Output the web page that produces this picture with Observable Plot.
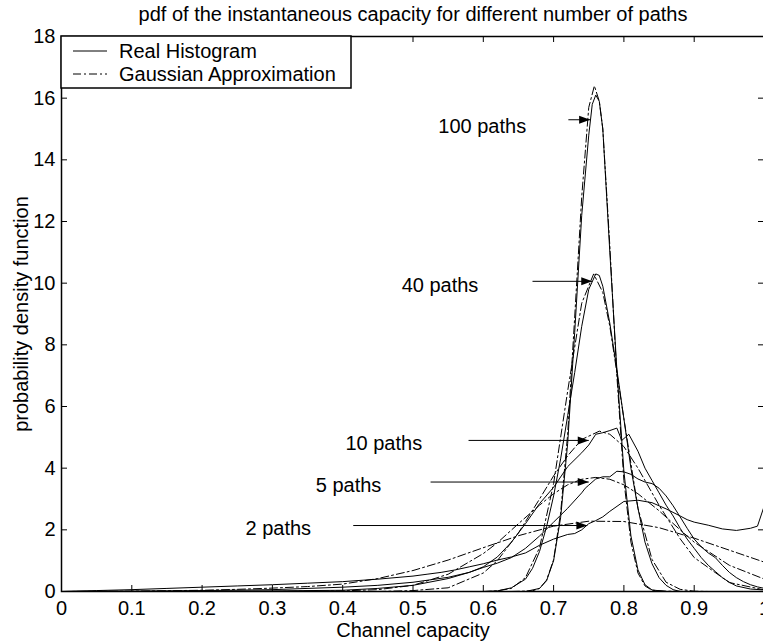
<!DOCTYPE html>
<html><head><meta charset="utf-8">
<script src="https://cdn.jsdelivr.net/npm/d3@7"></script>
<script src="https://cdn.jsdelivr.net/npm/@observablehq/plot@0.6"></script>
<style>
html,body{margin:0;padding:0;background:#fff;overflow:hidden}
#chart svg{display:block}
</style></head><body><div id="chart"></div>
<script>
// ---- data ----
const titleText = "pdf of the instantaneous capacity for different number of paths";
const xLabel = "Channel capacity";
const yLabel = "probability density function";
const legendLabels = ["Real Histogram", "Gaussian Approximation"];
const xTicks = [0,0.1,0.2,0.3,0.4,0.5,0.6,0.7,0.8,0.9,1];
const xTickLabels = ["0","0.1","0.2","0.3","0.4","0.5","0.6","0.7","0.8","0.9","1"];
const yTicks = [0,2,4,6,8,10,12,14,16,18];

// Real histograms
const real2x = [0,0.05,0.1,0.15,0.2,0.25,0.3,0.35,0.4,0.45,0.5,0.52,0.54,0.56,0.58,0.6,0.62,0.64,0.66,0.68,0.70,0.72,0.73,0.74,0.75,0.76,0.77,0.78,0.80,0.82,0.84,0.86,0.88,0.89,0.90,0.92,0.94,0.96,0.98,0.99,1.0];
const real2y = [0,0.03,0.06,0.1,0.14,0.18,0.22,0.27,0.32,0.4,0.5,0.56,0.62,0.7,0.8,0.9,1.02,1.12,1.25,1.5,1.7,1.85,1.88,2.0,2.2,2.3,2.42,2.6,2.92,2.96,2.88,2.68,2.45,2.33,2.25,2.15,2.03,1.98,2.05,2.12,2.8];
const real5x = [0,0.1,0.2,0.3,0.4,0.45,0.5,0.55,0.58,0.6,0.62,0.64,0.66,0.68,0.70,0.72,0.74,0.745,0.75,0.76,0.77,0.78,0.79,0.80,0.81,0.82,0.83,0.84,0.85,0.86,0.87,0.88,0.89,0.90,0.91,0.92,0.93,0.94,0.95,0.96,0.97,0.98,0.99,1.0];
const real5y = [0,0.01,0.03,0.06,0.14,0.2,0.3,0.46,0.62,0.78,0.92,1.1,1.4,1.8,2.25,2.7,3.2,3.35,3.45,3.65,3.72,3.72,3.9,3.88,3.8,3.65,3.55,3.5,3.35,3.1,2.78,2.42,2.05,1.7,1.45,1.25,1.1,0.85,0.62,0.45,0.32,0.22,0.15,0.1];
const real10x = [0,0.2,0.3,0.4,0.45,0.5,0.55,0.58,0.6,0.62,0.64,0.66,0.68,0.70,0.72,0.74,0.75,0.76,0.77,0.78,0.79,0.797,0.807,0.82,0.83,0.84,0.85,0.86,0.87,0.88,0.89,0.90,0.91,0.92,0.93,0.94,0.95,0.96,0.98,1.0];
const real10y = [0,0.01,0.02,0.04,0.1,0.2,0.42,0.62,0.8,1.12,1.6,2.2,2.85,3.38,4.05,4.5,4.75,5.1,5.15,5.22,5.3,4.9,5.1,4.55,4.0,3.6,3.2,2.8,2.45,2.05,1.7,1.4,1.1,0.85,0.65,0.45,0.3,0.18,0.08,0.05];
const real40x = [0,0.6,0.62,0.64,0.66,0.67,0.68,0.69,0.70,0.71,0.72,0.73,0.74,0.75,0.76,0.765,0.77,0.78,0.79,0.80,0.81,0.82,0.83,0.84,0.85,0.86,0.87,0.88,1.0];
const real40y = [0,0,0.02,0.12,0.4,0.75,1.3,2.1,3.1,4.3,5.7,7.1,8.6,9.8,10.3,10.25,9.9,8.7,7.2,5.6,4.0,2.7,1.6,0.9,0.45,0.2,0.06,0,0];
const real100x = [0,0.66,0.68,0.69,0.70,0.71,0.72,0.73,0.74,0.75,0.755,0.76,0.765,0.77,0.78,0.79,0.80,0.81,0.82,0.83,0.84,0.86,1.0];
const real100y = [0,0,0.1,0.35,1.0,2.4,4.8,8.4,12.2,14.8,15.8,16.1,15.9,15.0,11.0,7.2,3.9,1.8,0.7,0.22,0.05,0,0];

// Gaussian approximations
const gauss2x = [0,0.1,0.2,0.25,0.3,0.35,0.4,0.45,0.5,0.55,0.6,0.65,0.7,0.75,0.8,0.85,0.9,0.95,1.0];
const gauss2y = [0,0.01,0.04,0.07,0.11,0.16,0.24,0.42,0.68,1.02,1.42,1.81,2.12,2.28,2.27,2.07,1.73,1.34,0.95];
const gauss5x = [0.3,0.4,0.45,0.5,0.55,0.6,0.62,0.65,0.68,0.7,0.72,0.74,0.76,0.78,0.8,0.82,0.85,0.88,0.9,0.95,1.0];
const gauss5y = [0,0.02,0.06,0.2,0.56,1.23,1.58,2.2,2.8,3.17,3.46,3.64,3.7,3.64,3.46,3.17,2.62,2.0,1.6,0.85,0.4];
const gauss10x = [0.45,0.5,0.55,0.6,0.62,0.65,0.68,0.7,0.72,0.74,0.765,0.78,0.8,0.82,0.85,0.88,0.9,0.95,1.0];
const gauss10y = [0,0.03,0.12,0.6,1.0,1.9,3.0,3.75,4.4,4.93,5.2,5.1,4.7,4.0,2.8,1.71,1.1,0.29,0.05];
const gauss40x = [0.6,0.62,0.64,0.66,0.68,0.70,0.72,0.74,0.757,0.77,0.78,0.80,0.82,0.84,0.86,0.88,0.9,0.92];
const gauss40y = [0,0.02,0.1,0.45,1.42,3.5,6.5,9.35,10.3,9.7,8.6,5.6,2.7,1.04,0.3,0.07,0.01,0];
const gauss100x = [0.64,0.67,0.68,0.69,0.70,0.71,0.72,0.73,0.74,0.75,0.758,0.765,0.77,0.78,0.79,0.80,0.81,0.82,0.83,0.84,0.86,0.9];
const gauss100y = [0,0.02,0.1,0.37,1.03,2.55,5.1,8.9,12.8,15.7,16.4,15.9,15.0,11.2,7.0,3.6,1.6,0.6,0.18,0.04,0.01,0];

// Annotations
const annoLabels = ["100 paths","40 paths","10 paths","5 paths","2 paths"];
const annoLabelX = [0.661,0.593,0.513,0.455,0.355];   // right end of label
const annoLabelY = [15.08,9.93,4.8,3.44,2.04];
const arrowFromX = [0.721,0.670,0.579,0.525,0.415];
const arrowToX   = [0.752,0.755,0.750,0.750,0.748];
const arrowY     = [15.3,10.06,4.9,3.55,2.14];

// ---- build tables ----
function rows(xs, ys, key) { return xs.map((x, i) => ({x, y: ys[i], key})); }
const realRows = [
  ...rows(real2x, real2y, "2"), ...rows(real5x, real5y, "5"), ...rows(real10x, real10y, "10"),
  ...rows(real40x, real40y, "40"), ...rows(real100x, real100y, "100")];
const gaussRows = [
  ...rows(gauss2x, gauss2y, "2"), ...rows(gauss5x, gauss5y, "5"), ...rows(gauss10x, gauss10y, "10"),
  ...rows(gauss40x, gauss40y, "40"), ...rows(gauss100x, gauss100y, "100")];
const arrows = annoLabels.map((l, i) => ({label: l, lx: annoLabelX[i], ly: annoLabelY[i], x1: arrowFromX[i], x2: arrowToX[i], y: arrowY[i]}));

const FONT = "'Liberation Sans', Arial, Helvetica, sans-serif";
const FS = 20;
const W = 764, H = 644, ML = 61, MR = 0, MT = 36, MB = 53;
const FW = W - ML - MR, FH = H - MT - MB, TICK = 6;

const headSymbol = {draw(ctx) { ctx.moveTo(0, 0); ctx.lineTo(-11, -4); ctx.lineTo(-11, 4); ctx.closePath(); }};
const dashDot = "8,3,2,3";

const chart = Plot.plot({
  width: W, height: H,
  marginLeft: ML, marginRight: MR, marginTop: MT, marginBottom: MB,
  style: {fontFamily: FONT, fontSize: FS + "px", color: "black", background: "white", maxWidth: "none", overflow: "hidden"},
  x: {domain: [0, 1]},
  y: {domain: [0, 18]},
  marks: [
    Plot.line(realRows, {x: "x", y: "y", z: "key", stroke: "black", strokeWidth: 1}),
    Plot.line(gaussRows, {x: "x", y: "y", z: "key", stroke: "black", strokeWidth: 1, strokeDasharray: dashDot}),
    // inward ticks
    Plot.tickX(xTicks, {x: d => d, insetTop: FH - TICK, stroke: "black"}),
    Plot.tickX(xTicks, {x: d => d, insetBottom: FH - TICK, stroke: "black"}),
    Plot.tickY(yTicks, {y: d => d, insetRight: FW - TICK, stroke: "black"}),
    Plot.tickY(yTicks, {y: d => d, insetLeft: FW - TICK, stroke: "black"}),
    Plot.frame({stroke: "black", strokeWidth: 1.5}),
    Plot.axisX({ticks: xTicks, tickSize: 0, tickPadding: 9, tickFormat: d => xTickLabels[xTicks.indexOf(d)], fontSize: FS, label: null}),
    Plot.axisY({ticks: yTicks, tickSize: 0, tickPadding: 6, fontSize: FS, label: null}),
    // arrows
    Plot.link(arrows, {x1: "x1", x2: "x2", y1: "y", y2: "y", stroke: "black", strokeWidth: 1}),
    Plot.dot(arrows, {x: "x2", y: "y", symbol: headSymbol, fill: "black", stroke: "none"}),
    Plot.text(arrows, {x: "lx", y: "ly", text: "label", textAnchor: "end", fontSize: FS, fill: "black"}),
    // titles
    Plot.text([titleText], {frameAnchor: "top", lineAnchor: "middle", textAnchor: "middle", dy: -22, fontSize: FS, fill: "black"}),
    Plot.text([xLabel], {frameAnchor: "bottom", lineAnchor: "middle", textAnchor: "middle", dy: 39, fontSize: FS, fill: "black"}),
    Plot.text([yLabel], {frameAnchor: "left", lineAnchor: "middle", textAnchor: "middle", dx: -40, rotate: -90, fontSize: FS, fill: "black"})
  ]
});
document.getElementById("chart").appendChild(chart);

// legend (top-left box inside the axes)
const svg = d3.select(chart);
const lg = svg.append("g").attr("font-family", FONT).attr("font-size", FS).attr("text-anchor", "start");
const bx = ML, by = MT, bw = 290, bh = 52;
lg.append("rect").attr("x", bx).attr("y", by).attr("width", bw).attr("height", bh)
  .attr("fill", "white").attr("stroke", "black").attr("stroke-width", 1.5);
legendLabels.forEach((t, i) => {
  const yy = by + 15 + i * 23;
  lg.append("line").attr("x1", bx + 12).attr("x2", bx + 46).attr("y1", yy).attr("y2", yy)
    .attr("stroke", "black").attr("stroke-dasharray", i === 0 ? null : dashDot);
  lg.append("text").attr("x", bx + 58).attr("y", yy).attr("dy", "0.35em")
    .attr("text-anchor", "start").attr("fill", "black").text(t);
});
</script></body></html>
